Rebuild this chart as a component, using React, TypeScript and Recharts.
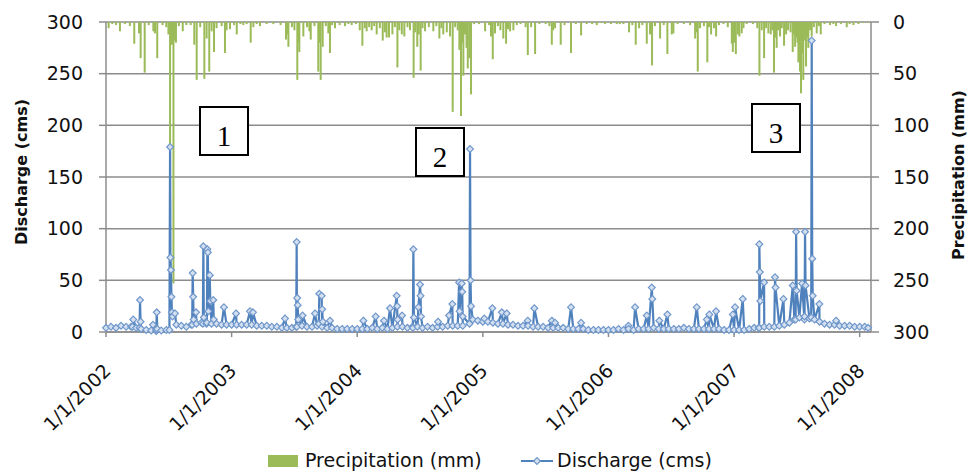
import { ComposedChart, Bar, Line, XAxis, YAxis, CartesianGrid } from 'recharts';

const yearTicks = [2002, 2003, 2004, 2005, 2006, 2007, 2008];
const valueTicks = [0, 50, 100, 150, 200, 250, 300];

// decimal year, discharge (cms) - slow flow between storms
const dischargeBase: [number, number][] = [
  [2002.0, 4], [2002.04, 5], [2002.08, 4], [2002.12, 6], [2002.16, 5], [2002.2, 5], [2002.24, 4],
  [2002.28, 3], [2002.32, 2], [2002.36, 1.5], [2002.4, 1], [2002.44, 1.5], [2002.48, 2],
  [2002.56, 7], [2002.6, 6], [2002.64, 5], [2002.68, 7], [2002.72, 8], [2002.76, 9], [2002.8, 8],
  [2002.84, 8], [2002.88, 8], [2002.92, 7], [2002.96, 7], [2003.0, 7], [2003.04, 7], [2003.08, 7],
  [2003.12, 7], [2003.16, 7], [2003.2, 6], [2003.24, 6], [2003.28, 6], [2003.32, 5], [2003.36, 5],
  [2003.4, 4], [2003.44, 4], [2003.48, 4], [2003.52, 5], [2003.56, 6], [2003.6, 5], [2003.64, 5],
  [2003.68, 6], [2003.72, 5], [2003.76, 4], [2003.8, 4], [2003.84, 3], [2003.88, 3], [2003.92, 3],
  [2003.96, 3], [2004.0, 3], [2004.04, 3], [2004.08, 3], [2004.12, 4], [2004.16, 3], [2004.2, 4],
  [2004.24, 3], [2004.28, 4], [2004.32, 5], [2004.36, 5], [2004.4, 4], [2004.44, 5], [2004.48, 5],
  [2004.52, 4], [2004.56, 5], [2004.6, 4], [2004.64, 5], [2004.68, 5], [2004.72, 6], [2004.76, 6],
  [2004.8, 6], [2004.84, 6], [2004.92, 12], [2004.96, 11], [2005.0, 10], [2005.04, 10], [2005.08, 9],
  [2005.12, 8], [2005.16, 8], [2005.2, 7], [2005.24, 7], [2005.28, 6], [2005.32, 6], [2005.36, 6],
  [2005.4, 5], [2005.44, 5], [2005.48, 5], [2005.52, 4], [2005.56, 4], [2005.6, 4], [2005.64, 4],
  [2005.68, 3], [2005.72, 3], [2005.76, 3], [2005.8, 3], [2005.84, 2], [2005.88, 2], [2005.92, 2],
  [2005.96, 2], [2006.0, 2], [2006.04, 2], [2006.08, 3], [2006.12, 2], [2006.16, 3], [2006.2, 2],
  [2006.24, 3], [2006.28, 3], [2006.32, 3], [2006.36, 4], [2006.4, 3], [2006.44, 3], [2006.48, 3],
  [2006.52, 3], [2006.56, 3], [2006.6, 4], [2006.64, 3], [2006.68, 3], [2006.72, 3], [2006.76, 3],
  [2006.8, 3], [2006.84, 3], [2006.88, 3], [2006.92, 2], [2006.96, 2], [2007.0, 2], [2007.04, 2],
  [2007.08, 2], [2007.12, 3], [2007.16, 4], [2007.2, 4], [2007.24, 5], [2007.28, 5], [2007.32, 5],
  [2007.36, 6], [2007.4, 7], [2007.44, 9], [2007.48, 12], [2007.52, 14], [2007.56, 12], [2007.6, 13],
  [2007.64, 12], [2007.68, 10], [2007.72, 8], [2007.76, 7], [2007.8, 7], [2007.84, 6], [2007.88, 6],
  [2007.92, 6], [2007.96, 5], [2008.0, 5], [2008.04, 5], [2008.067, 4],
];

// storm peaks and their recessions
const dischargePeaks: [number, number][] = [
  [2002.21, 5], [2002.217, 12], [2002.267, 4], [2002.271, 31], [2002.275, 10], [2002.374, 7],
  [2002.4, 2], [2002.404, 19], [2002.408, 3],
  [2002.505, 2], [2002.51, 179], [2002.513, 72], [2002.517, 60], [2002.521, 34], [2002.525, 19], [2002.53, 15],
  [2002.549, 18], [2002.686, 7], [2002.69, 57], [2002.694, 34], [2002.698, 12], [2002.717, 19],
  [2002.771, 8], [2002.775, 83], [2002.779, 14], [2002.803, 9], [2002.807, 80], [2002.811, 77],
  [2002.815, 20], [2002.826, 55], [2002.83, 30], [2002.854, 31], [2002.858, 12], [2002.939, 24],
  [2003.035, 18], [2003.146, 20], [2003.17, 19], [2003.425, 13],
  [2003.514, 5], [2003.518, 87], [2003.522, 33], [2003.526, 26], [2003.53, 12], [2003.565, 16],
  [2003.664, 18], [2003.694, 8], [2003.698, 37], [2003.717, 35], [2003.721, 22], [2003.726, 10],
  [2003.783, 11], [2004.049, 11], [2004.147, 15], [2004.213, 11], [2004.261, 23],
  [2004.314, 35], [2004.318, 25], [2004.322, 12], [2004.357, 16],
  [2004.443, 4], [2004.447, 80], [2004.451, 14], [2004.487, 24], [2004.5, 46], [2004.504, 35],
  [2004.508, 15], [2004.643, 10], [2004.731, 16], [2004.757, 27],
  [2004.811, 48], [2004.815, 20], [2004.832, 47], [2004.836, 39], [2004.84, 15],
  [2004.894, 8], [2004.898, 177], [2004.902, 50], [2004.906, 25],
  [2005.012, 13], [2005.076, 23], [2005.151, 19], [2005.19, 18], [2005.357, 11], [2005.41, 23],
  [2005.549, 11], [2005.575, 9], [2005.702, 24], [2005.782, 9],
  [2006.159, 6], [2006.212, 24], [2006.305, 16], [2006.345, 43], [2006.349, 32], [2006.405, 11],
  [2006.469, 17], [2006.703, 24], [2006.783, 12], [2006.803, 17], [2006.857, 20], [2006.99, 17],
  [2007.008, 24], [2007.069, 32],
  [2007.197, 4], [2007.201, 85], [2007.205, 58], [2007.209, 30], [2007.239, 48],
  [2007.326, 53], [2007.33, 43], [2007.393, 32], [2007.467, 45],
  [2007.49, 12], [2007.494, 97], [2007.498, 40], [2007.541, 47],
  [2007.561, 15], [2007.565, 97], [2007.569, 45],
  [2007.614, 14], [2007.618, 282], [2007.622, 71], [2007.626, 35],
  [2007.679, 27], [2007.812, 11],
];

// decimal year, daily precipitation (mm)
const precipitation: [number, number][] = [
  [2002.021, 6], [2002.05, 2], [2002.08, 3], [2002.111, 9], [2002.15, 2], [2002.19, 4], [2002.225, 21],
  [2002.263, 11], [2002.276, 35], [2002.308, 49], [2002.34, 3], [2002.377, 9], [2002.39, 11],
  [2002.408, 35], [2002.45, 3], [2002.48, 5], [2002.497, 12], [2002.51, 200], [2002.518, 20],
  [2002.525, 22], [2002.531, 16], [2002.537, 253], [2002.545, 18], [2002.557, 20], [2002.58, 4],
  [2002.611, 9], [2002.64, 3], [2002.674, 3], [2002.703, 22], [2002.722, 56], [2002.75, 5],
  [2002.783, 55], [2002.801, 16], [2002.822, 48], [2002.841, 9], [2002.86, 29], [2002.88, 6],
  [2002.921, 4], [2002.947, 30], [2002.96, 8], [2002.987, 7], [2003.02, 3], [2003.041, 12],
  [2003.07, 2], [2003.093, 3], [2003.12, 2], [2003.152, 20], [2003.173, 5], [2003.2, 2], [2003.226, 4],
  [2003.279, 2], [2003.332, 2], [2003.39, 3], [2003.433, 17], [2003.442, 12], [2003.452, 24],
  [2003.48, 5], [2003.5, 8], [2003.523, 56], [2003.53, 20], [2003.539, 29], [2003.571, 14],
  [2003.6, 5], [2003.619, 9], [2003.63, 17], [2003.66, 4], [2003.69, 48], [2003.7, 20], [2003.709, 56],
  [2003.725, 24], [2003.75, 4], [2003.77, 11], [2003.783, 30], [2003.8, 3], [2003.823, 6], [2003.86, 3],
  [2003.903, 4], [2003.93, 2], [2003.956, 3], [2003.99, 2], [2004.02, 8], [2004.041, 23], [2004.06, 6],
  [2004.075, 9], [2004.095, 5], [2004.115, 8], [2004.135, 4], [2004.155, 12], [2004.18, 6],
  [2004.203, 18], [2004.22, 10], [2004.234, 15], [2004.253, 15], [2004.28, 12], [2004.3, 5],
  [2004.32, 44], [2004.335, 8], [2004.355, 12], [2004.375, 14], [2004.4, 5], [2004.42, 8],
  [2004.449, 54], [2004.462, 10], [2004.478, 24], [2004.49, 12], [2004.505, 47], [2004.52, 6],
  [2004.54, 9], [2004.57, 5], [2004.606, 9], [2004.63, 4], [2004.654, 16], [2004.67, 6], [2004.685, 12],
  [2004.713, 10], [2004.739, 14], [2004.76, 87], [2004.78, 5], [2004.8, 8], [2004.813, 27],
  [2004.826, 91], [2004.835, 20], [2004.845, 52], [2004.858, 12], [2004.87, 25], [2004.88, 45],
  [2004.893, 35], [2004.906, 70], [2004.93, 2], [2004.97, 2], [2005.018, 9], [2005.05, 3],
  [2005.065, 14], [2005.079, 36], [2005.097, 11], [2005.12, 4], [2005.14, 8], [2005.163, 16],
  [2005.185, 21], [2005.2, 7], [2005.217, 9], [2005.243, 8], [2005.27, 3], [2005.3, 2], [2005.34, 5],
  [2005.358, 32], [2005.384, 5], [2005.416, 31], [2005.45, 2], [2005.5, 2], [2005.53, 4],
  [2005.549, 22], [2005.56, 8], [2005.575, 6], [2005.62, 22], [2005.65, 3], [2005.702, 30],
  [2005.74, 2], [2005.782, 13], [2005.827, 2], [2005.87, 2], [2005.907, 3], [2005.94, 1],
  [2005.973, 2], [2006.02, 2], [2006.066, 2], [2006.09, 2], [2006.119, 2], [2006.164, 10],
  [2006.19, 3], [2006.217, 22], [2006.244, 6], [2006.27, 3], [2006.305, 21], [2006.331, 12],
  [2006.347, 42], [2006.37, 4], [2006.411, 16], [2006.44, 3], [2006.469, 31], [2006.504, 12],
  [2006.517, 11], [2006.55, 2], [2006.6, 2], [2006.65, 3], [2006.69, 16], [2006.7, 10], [2006.711, 48],
  [2006.729, 6], [2006.76, 4], [2006.787, 39], [2006.8, 5], [2006.817, 12], [2006.84, 6],
  [2006.857, 14], [2006.88, 3], [2006.915, 2], [2006.95, 5], [2006.982, 21], [2006.99, 29],
  [2007.0, 20], [2007.014, 31], [2007.03, 12], [2007.042, 14], [2007.061, 11], [2007.075, 6],
  [2007.1, 2], [2007.15, 2], [2007.185, 6], [2007.202, 52], [2007.22, 8], [2007.239, 35],
  [2007.255, 6], [2007.273, 11], [2007.292, 12], [2007.305, 8], [2007.318, 49], [2007.33, 15],
  [2007.339, 25], [2007.35, 8], [2007.366, 14], [2007.38, 6], [2007.398, 23], [2007.414, 12],
  [2007.43, 8], [2007.45, 10], [2007.467, 29], [2007.478, 12], [2007.486, 24], [2007.495, 15],
  [2007.505, 20], [2007.512, 39], [2007.518, 22], [2007.525, 48], [2007.533, 69], [2007.542, 30],
  [2007.551, 56], [2007.56, 18], [2007.573, 43], [2007.582, 15], [2007.591, 25], [2007.605, 8],
  [2007.618, 14], [2007.635, 5], [2007.658, 11], [2007.675, 4], [2007.69, 12], [2007.72, 2],
  [2007.764, 3], [2007.79, 2], [2007.812, 4], [2007.85, 2], [2007.897, 5], [2007.92, 2],
  [2007.95, 3], [2007.99, 2], [2008.029, 1], [2008.067, 1],
];

type Row = { t: number; q?: number; p?: number };

const rows: Row[] = [
  ...dischargeBase.map(([t, q]) => ({ t, q })),
  ...dischargePeaks.map(([t, q]) => ({ t, q })),
  ...precipitation.map(([t, p]) => ({ t, p })),
].sort((a, b) => a.t - b.t);

const FONT = '"DejaVu Sans", sans-serif';
const GRID = '#8c8c8c';

function Diamond(props: any) {
  const { cx, cy, index, value } = props;
  if (cx == null || cy == null || value == null) return <g key={index} />;
  const s = 3.4;
  return (
    <path
      key={index}
      d={`M${cx},${cy - s}L${cx + s},${cy}L${cx},${cy + s}L${cx - s},${cy}Z`}
      fill="#d4e0f0"
      stroke="#6f97cb"
      strokeWidth={1.2}
    />
  );
}

// thin hanging bar, drawn at a fixed 2px width around the bar's centre
function RainBar(props: any) {
  const { x, y, width, height, value } = props;
  if (value == null || x == null || y == null) return <g />;
  const cx = x + (width || 0) / 2;
  const top = Math.min(y, y + height);
  const h = Math.abs(height);
  return <rect x={cx - 1} y={top} width={2} height={h} fill="#9bbb59" />;
}

function YearTick({ x, y, payload }: any) {
  const ax = x + 6;
  const ay = y + 33;
  return (
    <text x={ax} y={ay} transform={`rotate(-45, ${ax}, ${ay})`} textAnchor="end" fontSize={19} fontFamily={FONT} fill="#111">
      {`1/1/${payload.value}`}
    </text>
  );
}

function Box({ x, y, label, base }: { x: number; y: number; label: string; base: number }) {
  return (
    <g>
      <rect x={x} y={y} width={48} height={48} fill="#fff" stroke="#000" strokeWidth={2} />
      <text x={x + 24} y={base} textAnchor="middle" fontSize={29} fontFamily='"Liberation Serif", serif' fill="#000">
        {label}
      </text>
    </g>
  );
}

export default function App() {
  return (
    <div style={{ position: 'absolute', left: 0, top: 0, width: 972, height: 474, background: '#fff' }}>
      <ComposedChart width={972} height={474} data={rows} margin={{ top: 22, right: 0, bottom: 0, left: 0 }}>
        <CartesianGrid yAxisId="q" vertical={false} stroke={GRID} strokeWidth={1.5} />
        <XAxis
          dataKey="t"
          type="number"
          domain={[2002, 2008.09]}
          ticks={yearTicks}
          height={142}
          tick={<YearTick />}
          tickSize={5}
          axisLine={{ stroke: GRID, strokeWidth: 1.5 }}
          tickLine={{ stroke: GRID, strokeWidth: 1.5 }}
        />
        <YAxis
          yAxisId="q"
          domain={[0, 300]}
          ticks={valueTicks}
          width={106}
          tickSize={7}
          tickMargin={16}
          tick={{ fontSize: 19, fontFamily: FONT, fill: '#111' }}
          axisLine={{ stroke: GRID, strokeWidth: 1.5 }}
          tickLine={{ stroke: GRID, strokeWidth: 1.5 }}
          label={{ value: 'Discharge (cms)', angle: -90, position: 'insideLeft', offset: 21, dy: -5, style: { fontSize: 16, fontWeight: 'bold', fontFamily: FONT, fill: '#111', textAnchor: 'middle' } }}
        />
        <YAxis
          yAxisId="p"
          orientation="right"
          reversed
          domain={[0, 300]}
          ticks={valueTicks}
          width={101}
          tickSize={8}
          tickMargin={14}
          tick={{ fontSize: 19, fontFamily: FONT, fill: '#111', textAnchor: 'start' }}
          axisLine={{ stroke: GRID, strokeWidth: 1.5 }}
          tickLine={{ stroke: GRID, strokeWidth: 1.5 }}
          label={{ value: 'Precipitation (mm)', angle: -90, position: 'insideRight', offset: 14, dy: -2, style: { fontSize: 16, fontWeight: 'bold', fontFamily: FONT, fill: '#111', textAnchor: 'middle' } }}
        />
        <Bar yAxisId="p" dataKey="p" fill="#9bbb59" barSize={2} shape={RainBar} isAnimationActive={false} />
        <Line
          yAxisId="q"
          dataKey="q"
          type="linear"
          stroke="#4f81bd"
          strokeWidth={2.2}
          connectNulls
          dot={Diamond}
          activeDot={false}
          isAnimationActive={false}
        />
      </ComposedChart>
      <svg width={972} height={474} style={{ position: 'absolute', left: 0, top: 0, pointerEvents: 'none' }}>
        <Box x={200} y={107} label="1" base={146} />
        <Box x={416} y={128} label="2" base={167} />
        <Box x={752} y={104} label="3" base={143} />
        <rect x={268} y={455} width={30} height={12} fill="#9bbb59" />
        <text x={305} y={467} fontSize={19} fontFamily={FONT} fill="#111">Precipitation (mm)</text>
        <line x1={521} y1={461} x2={553} y2={461} stroke="#4f81bd" strokeWidth={2} />
        <path d="M537,457.6L540.4,461L537,464.4L533.6,461Z" fill="#d4e0f0" stroke="#6f97cb" strokeWidth={1.2} />
        <text x={557} y={467} fontSize={19} fontFamily={FONT} fill="#111">Discharge (cms)</text>
      </svg>
    </div>
  );
}
